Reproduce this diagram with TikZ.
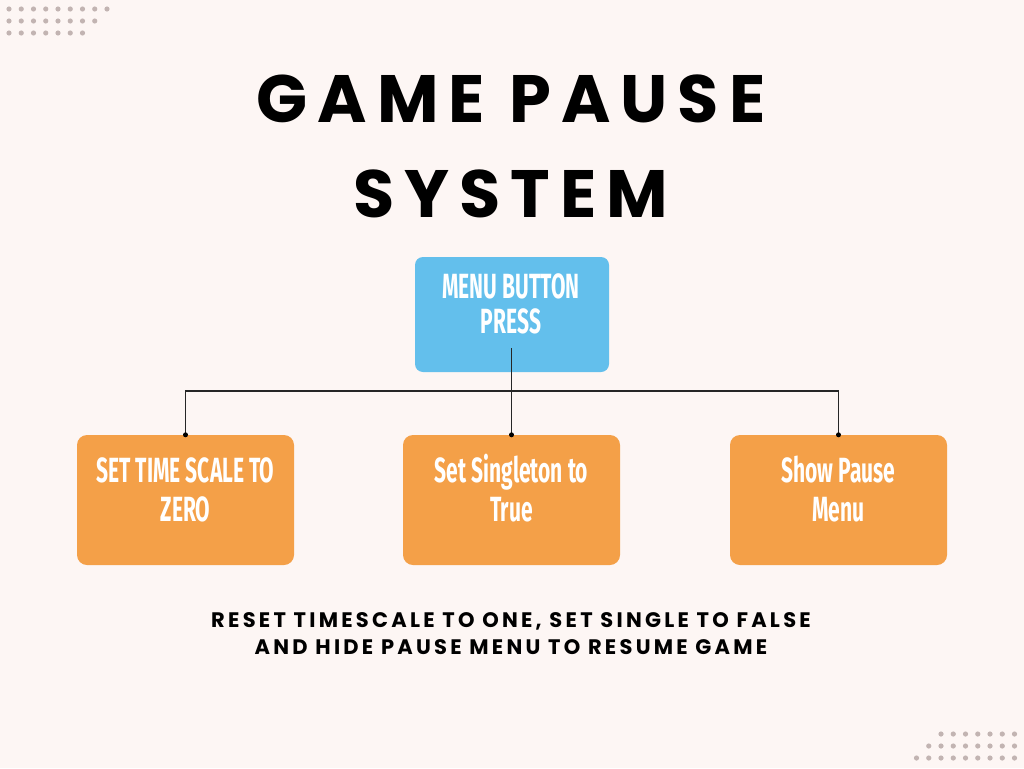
\documentclass[tikz,border=0pt]{standalone}
\usepackage{fontspec}
\setmainfont{Poppins}
\newfontfamily\titlefont{Poppins}[LetterSpace=15]
\newfontfamily\notefont{Poppins}[LetterSpace=15.5]
\newfontfamily\boxfont{Fira Sans}[FakeStretch=0.6]
\definecolor{bg}{HTML}{FDF6F4}
\definecolor{menublue}{HTML}{63BFEC}
\definecolor{boxorange}{HTML}{F4A048}
\definecolor{dotgray}{HTML}{C2B4B2}
\tikzset{
  menubox/.style={fill=menublue, rounded corners=8pt, minimum width=194pt, minimum height=115pt, inner sep=0pt},
  actionbox/.style={fill=boxorange, rounded corners=10pt, minimum width=217pt, minimum height=130pt, inner sep=0pt},
  boxtext/.style={text=white, align=center, font=\boxfont\bfseries\fontsize{35}{39}\selectfont, inner sep=0pt},
  link/.style={line width=1.4pt, draw=black!85},
  joint/.style={circle, fill=black, inner sep=0pt, minimum size=5pt},
  deco/.style={fill=dotgray}
}
\begin{document}
\begin{tikzpicture}[x=1pt,y=-1pt]
\fill[bg] (0,0) rectangle (1024,768);
\useasboundingbox (0,0) rectangle (1024,768);
% decorative dots
\foreach \n [count=\r] in {9,8,7}{
  \foreach \i in {1,...,\n}{
    \fill[deco] ({9+(\i-1)*12.25},{9+(\r-1)*12}) circle (2.6pt);
  }
}
\foreach \n [count=\r] in {7,8,9}{
  \foreach \i in {1,...,\n}{
    \fill[deco] ({1014.5-(\i-1)*12.25},{734+(\r-1)*12}) circle (2.6pt);
  }
}
% title
\node[font=\titlefont\bfseries\fontsize{67}{95}\selectfont, align=center, anchor=base, inner sep=0pt] (title) at (511,217) {GAME PAUSE\\SYSTEM};
% boxes
\node[menubox] (menu) at (512,314.5) {};
\node[boxtext, anchor=base] (menutxt) at (511,333) {MENU BUTTON\\[-4pt]PRESS};
\node[actionbox] (left) at (185.5,500) {};
\node[actionbox] (mid) at (511.5,500) {};
\node[actionbox] (right) at (838.5,500) {};
\node[boxtext, anchor=base] (lefttxt) at (185.5,521) {SET TIME SCALE TO\\ZERO};
\node[boxtext, anchor=base] (midtxt) at (511.5,521) {Set Singleton to\\True};
\node[boxtext, anchor=base] (righttxt) at (838.5,521) {Show Pause\\Menu};
% connectors
\coordinate (mstart) at (511.5,348);
\coordinate (hub) at (511.5,391);
\draw[link] (mstart) -- (mid.north);
\draw[link] (left.north) |- (hub) -| (right.north);
\node[joint] (jl) at (left.north) {};
\node[joint] (jm) at (mid.north) {};
\node[joint] (jr) at (right.north) {};
% note
\node[font=\notefont\bfseries\fontsize{21}{27}\selectfont, align=center, anchor=base, inner sep=0pt] (note) at (511,654) {RESET TIMESCALE TO ONE, SET SINGLE TO FALSE\\AND HIDE PAUSE MENU TO RESUME GAME};
\end{tikzpicture}
\end{document}
